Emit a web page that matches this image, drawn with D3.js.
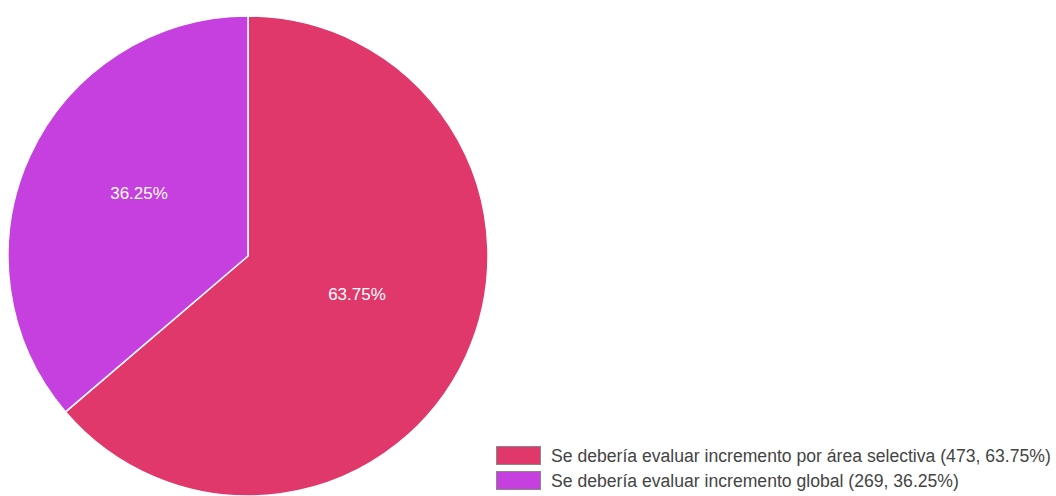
<!DOCTYPE html>
<html><head><meta charset="utf-8">
<script src="https://cdn.jsdelivr.net/npm/d3@7"></script>
<style>body{margin:0;background:#fff}svg{display:block}</style>
</head><body>
<svg id="c" width="1056" height="496"></svg>
<script>
const categories = ["Se debería evaluar incremento por área selectiva", "Se debería evaluar incremento global"];
const values = [473, 269];
const percents = ["63.75%", "36.25%"];
const colors = ["#E0386A", "#C640E0"];

const svg = d3.select("#c");
const cx = 248, cy = 256, r = 240;
const pie = d3.pie().sort(null).value(d => d)(values);
const arc = d3.arc().innerRadius(0).outerRadius(r);
const g = svg.append("g").attr("transform", `translate(${cx},${cy})`);
g.selectAll("path").data(pie).join("path")
  .attr("d", arc).attr("fill", (d, i) => colors[i])
  .attr("stroke", "#fff").attr("stroke-width", 1.5);
g.selectAll("text").data(pie).join("text")
  .attr("x", d => 120 * Math.sin((d.startAngle + d.endAngle) / 2))
  .attr("y", d => -120 * Math.cos((d.startAngle + d.endAngle) / 2) - 11)
  .attr("text-anchor", "middle").attr("dominant-baseline", "middle")
  .attr("fill", "#fff").attr("font-family", "Liberation Sans, Arial, sans-serif")
  .attr("font-size", 17).text((d, i) => percents[i]);

const lg = svg.append("g");
categories.forEach((c, i) => {
  const y = 446 + i * 25;
  lg.append("rect").attr("x", 496.5).attr("y", y + 0.5).attr("width", 44).attr("height", 18)
    .attr("fill", colors[i]).attr("stroke", "#888").attr("stroke-width", 1);
  lg.append("text").attr("x", 551).attr("y", y + 11).attr("dominant-baseline", "middle")
    .attr("font-family", "Liberation Sans, Arial, sans-serif").attr("font-size", 17.6)
    .attr("fill", "#444").text(`${c} (${values[i]}, ${percents[i]})`);
});
</script>
</body></html>
